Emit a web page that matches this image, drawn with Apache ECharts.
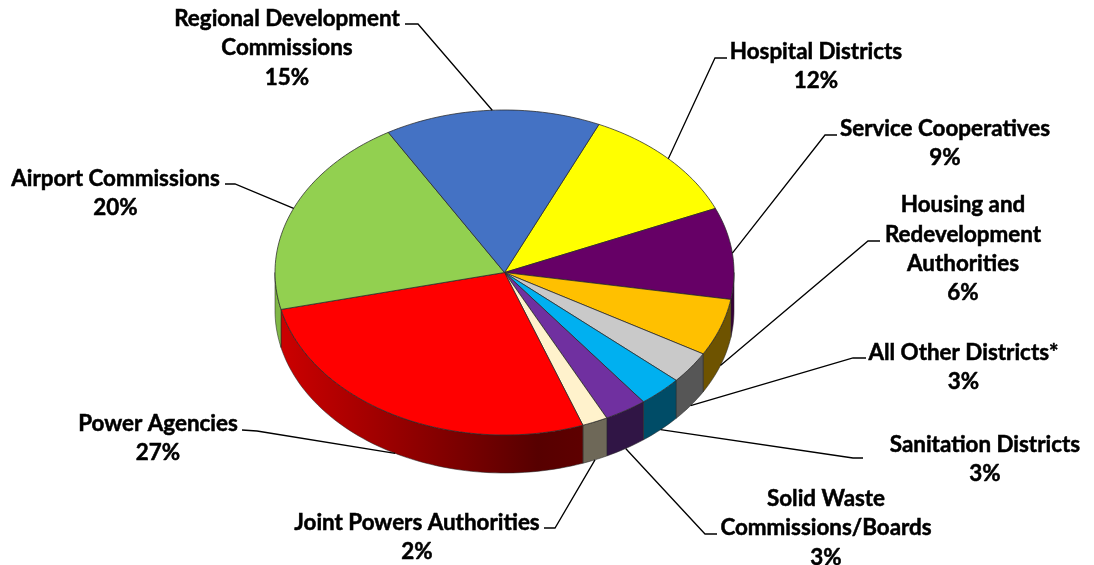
<!DOCTYPE html>
<html>
<head>
<meta charset="utf-8">
<title>Special districts</title>
<style>
html, body { margin: 0; padding: 0; background: #fff; }
#chart { width: 1094px; height: 565px; }
</style>
<script src="https://cdn.jsdelivr.net/npm/echarts@6/dist/echarts.min.js"></script>
</head>
<body>
<div id="chart"></div>
<script>
// clockwise from the hospital slice (percent)
var categories = [
	'Hospital Districts',
	'Service Cooperatives',
	'Housing and\nRedevelopment\nAuthorities',
	'All Other Districts*',
	'Sanitation Districts',
	'Solid Waste\nCommissions/Boards',
	'Joint Powers Authorities',
	'Power Agencies',
	'Airport Commissions',
	'Regional Development\nCommissions'
];
var shares = [11.8, 9.1, 5.7, 3.2, 3.1, 3.0, 1.8, 26.9, 20.2, 15.2];
var colors = ['#ffff00', '#660066', '#ffc000', '#c9c9c9', '#00b0f0', '#7030a0', '#fff2cc', '#ff0000', '#92d050', '#4472c4'];

// label centre and leader elbow/end, same order as categories
var labelCenters = [[816, 66.5], [945, 143.5], [963, 249], [963.5, 367.5], [985, 459], [826, 528], [417, 537], [158, 438.5], [115.5, 193], [287, 48]];
var leaderBends = [[715, 58], [825, 135], [868, 241], [853, 358], [853, 458], [705, 534], [555, 528], [257, 431], [235, 184], [418, 24]];
var leaderEnds = [[727, 58], [837, 135], [880, 241], [866, 358], [863, 458], [717, 534], [544, 528], [242, 430], [225, 184], [405, 24]];

// pie geometry
var cx = 504.5, cy = 272.5, rx = 229.5, ry = 162.5, depth = 38;
var startAngle = 24.3;

var total = shares.reduce(function (a, b) { return a + b; }, 0);
var angles = [startAngle];
shares.forEach(function (v, i) {
	angles.push(angles[i] + v / total * 360);
});

function rimPoint(deg, dy) {
	var r = deg * Math.PI / 180;
	return [cx + rx * Math.sin(r), cy - ry * Math.cos(r) + (dy || 0)];
}

function arcPoints(a0, a1, dy) {
	var n = Math.max(2, Math.ceil((a1 - a0) / 1.5));
	var pts = [];
	for (var i = 0; i <= n; i++) {
		pts.push(rimPoint(a0 + (a1 - a0) * i / n, dy));
	}
	return pts;
}

function darken(hex, k) {
	var c = parseInt(hex.slice(1), 16);
	var r = Math.round((c >> 16 & 255) * k);
	var g = Math.round((c >> 8 & 255) * k);
	var b = Math.round((c & 255) * k);
	return 'rgb(' + r + ',' + g + ',' + b + ')';
}

function wallFill(i) {
	var c = colors[i];
	// the big front slice runs from bright on the left to dark on the right
	if (shares[i] > 25) {
		return {
			type: 'linear', x: 0, y: 0, x2: 1, y2: 0,
			colorStops: [
				{offset: 0, color: darken(c, 0.8)},
				{offset: 0.85, color: darken(c, 0.34)},
				{offset: 1, color: darken(c, 0.37)}
			]
		};
	}
	var mid = (angles[i] + angles[i + 1]) / 2;
	if (mid > 200) {
		return darken(c, 0.88);
	}
	if (mid < 100) {
		return darken(c, 0.55);
	}
	return darken(c, 0.43);
}

function renderWall(params) {
	var i = params.dataIndex;
	var a0 = Math.max(angles[i], 90);
	var a1 = Math.min(angles[i + 1], 270);
	if (a1 <= a0) {
		return {type: 'group', children: []};
	}
	var pts = arcPoints(a0, a1, 0).concat(arcPoints(a0, a1, depth).reverse());
	return {
		type: 'polygon',
		shape: {points: pts},
		style: {fill: wallFill(i), stroke: 'rgba(40,40,40,0.55)', lineWidth: 1}
	};
}

function renderTop(params) {
	var i = params.dataIndex;
	var pts = [[cx, cy]].concat(arcPoints(angles[i], angles[i + 1], 0));
	return {
		type: 'polygon',
		shape: {points: pts},
		style: {fill: colors[i], stroke: 'rgba(40,40,40,0.75)', lineWidth: 1}
	};
}

function renderLabel(params) {
	var i = params.dataIndex;
	var mid = (angles[i] + angles[i + 1]) / 2;
	// leaders start on the lower rim for slices at the front
	var anchor = rimPoint(mid, mid > 90 && mid < 270 ? depth : 0);
	return {
		type: 'group',
		children: [{
			type: 'polyline',
			shape: {points: [anchor, leaderBends[i], leaderEnds[i]]},
			style: {fill: 'none', stroke: '#000', lineWidth: 1.3}
		}, {
			type: 'text',
			style: {
				text: categories[i] + '\n' + Math.round(shares[i]) + '%',
				x: labelCenters[i][0],
				y: labelCenters[i][1],
				align: 'center',
				verticalAlign: 'middle',
				fill: '#000',
				stroke: '#000',
				lineWidth: 0.5,
				font: 'bold 22.4px Lato',
				lineHeight: 29.3
			}
		}]
	};
}

var indexes = categories.map(function (c, i) { return i; });
var myChart = echarts.init(document.getElementById('chart'));
myChart.setOption({
	animation: false,
	backgroundColor: '#fff',
	series: [
		{type: 'custom', coordinateSystem: 'none', silent: true, z: 1, renderItem: renderWall, data: indexes},
		{type: 'custom', coordinateSystem: 'none', silent: true, z: 2, renderItem: renderTop, data: indexes},
		{type: 'custom', coordinateSystem: 'none', silent: true, z: 3, renderItem: renderLabel, data: indexes}
	]
});
</script>
</body>
</html>
